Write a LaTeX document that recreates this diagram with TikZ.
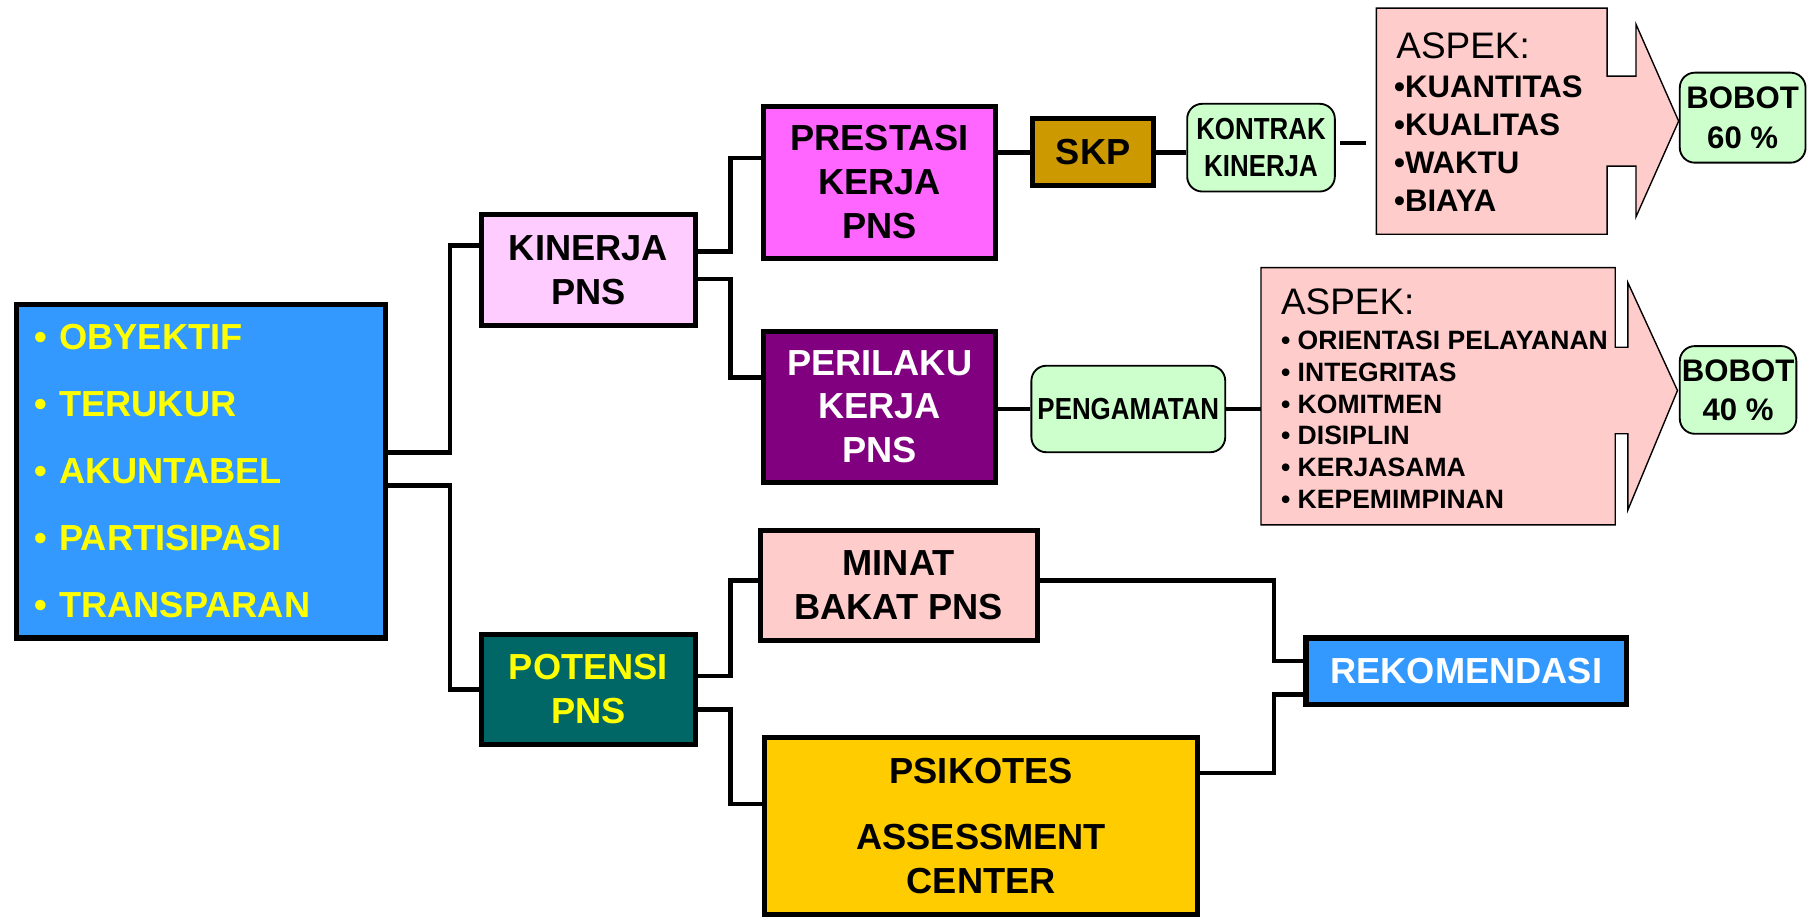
\documentclass[tikz,border=0pt]{standalone}
\usepackage{fontspec}
\setmainfont{Liberation Sans}
\newfontfamily\narrowfont{Liberation Sans}[FakeStretch=0.85]
\usepackage{tikz}

\definecolor{ptblue}{HTML}{3399FF}
\definecolor{ptyellow}{HTML}{FFFF00}
\definecolor{kinpink}{HTML}{FFCCFF}
\definecolor{potteal}{HTML}{006666}
\definecolor{presmag}{HTML}{FF66FF}
\definecolor{perpurple}{HTML}{800080}
\definecolor{skpgold}{HTML}{CC9900}
\definecolor{softgreen}{HTML}{CCFFCC}
\definecolor{aspekpink}{HTML}{FFCCCC}
\definecolor{psigold}{HTML}{FFCC00}

\begin{document}
\begin{tikzpicture}[x=0.5pt, y=-0.5pt,
    box/.style={draw, line width=2.2pt, inner sep=0pt, align=center,
                font=\bfseries\fontsize{15.7}{19}\selectfont},
    soft/.style={draw, line width=0.8pt, rounded corners=6.5pt,
                 fill=softgreen, inner sep=0pt, align=center},
    narrowtext/.style={font=\narrowfont\bfseries\fontsize{13.2}{16}\selectfont},
    bobottext/.style={font=\bfseries\fontsize{13.5}{17}\selectfont},
    aspekshape/.style={draw, line width=0.6pt, fill=aspekpink},
    line/.style={anchor=west, inner sep=0pt},
    link/.style={line width=2pt, line join=miter}]
  \useasboundingbox (0,0) rectangle (1568,795);

  % arrow callouts
  \filldraw[aspekshape] (1193,7) -- (1393,7) -- (1393,66) -- (1418,66) -- (1418,21)
    -- (1455,105) -- (1418,188) -- (1418,144) -- (1393,144) -- (1393,203)
    -- (1193,203) -- cycle;
  \filldraw[aspekshape] (1093,232) -- (1400,232) -- (1400,301) -- (1411,301) -- (1411,245)
    -- (1454,338.5) -- (1411,442) -- (1411,376) -- (1400,376) -- (1400,455)
    -- (1093,455) -- cycle;
  \coordinate (aspek1) at (1193,124);
  \coordinate (aspek2) at (1093,355);

  \node[box, fill=ptblue, text=ptyellow, minimum width=160pt, minimum height=144.5pt,
        text width=144pt, align=left, font=\bfseries\fontsize{15.7}{29}\selectfont]
        (obj) at (174,408.5)
        {• OBYEKTIF\\• TERUKUR\\• AKUNTABEL\\• PARTISIPASI\\• TRANSPARAN};

  \node[box, fill=kinpink, minimum width=93pt, minimum height=48pt] (kinerja) at (510,234) {KINERJA\\PNS};
  \node[box, fill=potteal, text=ptyellow, minimum width=93pt, minimum height=47.5pt] (potensi) at (510,597.5) {POTENSI\\PNS};
  \node[box, fill=presmag, minimum width=100.5pt, minimum height=66pt] (prestasi) at (762.5,158) {PRESTASI\\KERJA\\PNS};
  \node[box, fill=perpurple, text=white, minimum width=100.5pt, minimum height=65.5pt] (perilaku) at (762.5,352.5) {PERILAKU\\KERJA\\PNS};
  \node[box, fill=skpgold, minimum width=52.5pt, minimum height=29pt] (skp) at (947.5,132) {SKP};
  \node[box, fill=aspekpink, minimum width=120pt, minimum height=47.5pt] (minat) at (779,507.5) {MINAT\\BAKAT PNS};
  \node[box, fill=psigold, minimum width=187.5pt, minimum height=76.5pt] (psikotes) at (850.5,716) {PSIKOTES\\[9.5pt]ASSESSMENT\\CENTER};
  \node[box, fill=ptblue, text=white, minimum width=139pt, minimum height=29pt] (rekom) at (1271,582) {REKOMENDASI};

  \node[soft, narrowtext, minimum width=64pt, minimum height=38pt] (kontrak) at (1093,128) {KONTRAK\\KINERJA};
  \node[soft, narrowtext, minimum width=84pt, minimum height=37.5pt] (pengamatan) at (978,354.5) {PENGAMATAN};
  \node[soft, bobottext, minimum width=54.5pt, minimum height=39pt] (bobot60) at (1510.5,102) {BOBOT\\60 \%};
  \node[soft, bobottext, minimum width=50.5pt, minimum height=38pt] (bobot40) at (1506.5,338) {BOBOT\\40 \%};

  \node[line, font=\fontsize{16}{19}\selectfont] (asp1) at (1210,40) {ASPEK:};
  \foreach \t [count=\i] in {KUANTITAS, KUALITAS, WAKTU, BIAYA}
    \node[line, font=\bfseries\fontsize{13.5}{16}\selectfont] (ka\i) at (1208,42+33*\i) {•\t};

  \node[line, font=\fontsize{16}{19}\selectfont] (asp2) at (1110,262) {ASPEK:};
  \foreach \t [count=\i] in {ORIENTASI PELAYANAN, INTEGRITAS, KOMITMEN, DISIPLIN, KERJASAMA, KEPEMIMPINAN}
    \node[line, font=\bfseries\fontsize{11.5}{14}\selectfont] (kb\i) at (1110,267.4+27.6*\i) {• \t};

  \draw[link] ([yshift=8.25pt]obj.east) -- ++(54,0) |- ([yshift=10.5pt]kinerja.west);
  \draw[link] ([yshift=-6.25pt]obj.east) -- ++(54,0) |- (potensi.west);
  \draw[link] ([yshift=8pt]kinerja.east) -- ++(28,0) |- ([yshift=10.5pt]prestasi.west);
  \draw[link] ([yshift=-4pt]kinerja.east) -- ++(28,0) |- ([yshift=12.75pt]perilaku.west);
  \draw[link] ([yshift=5.75pt]potensi.east) -- ++(28,0) |- ([yshift=2.25pt]minat.west);
  \draw[link] ([yshift=-8.75pt]potensi.east) -- ++(28,0) |- ([yshift=9.5pt]psikotes.west);
  \draw[link] ([yshift=2.25pt]minat.east) -- ++(203,0) |- ([yshift=4.5pt]rekom.west);
  \draw[link] ([yshift=23pt]psikotes.east) -- ++(64,0) |- ([yshift=-10pt]rekom.west);

  \foreach \i/\j in {prestasi/skp, perilaku/pengamatan}
    \draw[link] (\j.west -| \i.east) -- (\j.west);
  \draw[link] (skp.east) -- (skp.east -| kontrak.west);
  \draw[link] (pengamatan.east) -- (pengamatan.east -| aspek2);
  \draw[link, shorten <=2pt, shorten >=4.5pt] ([yshift=2pt]kontrak.east) -- (aspek1);
\end{tikzpicture}
\end{document}
